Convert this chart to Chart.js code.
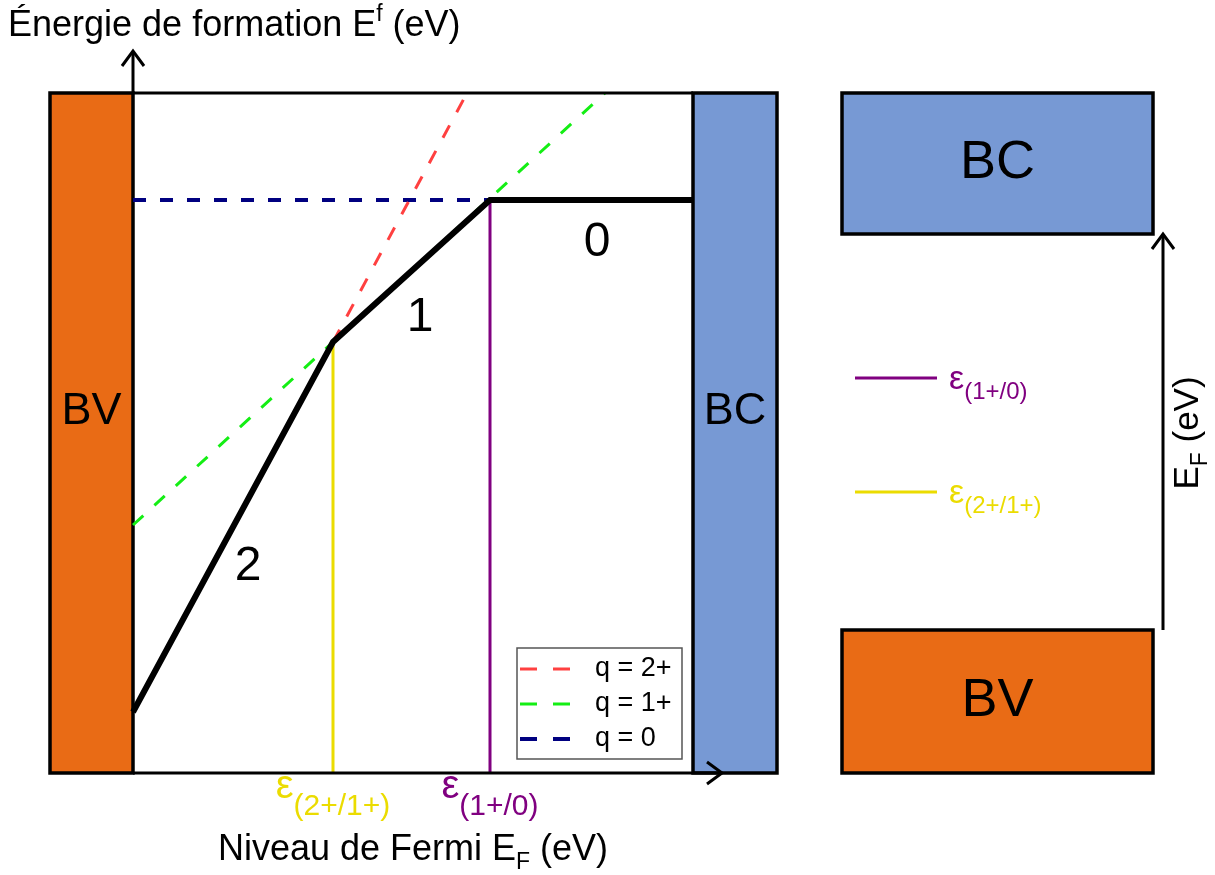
<!DOCTYPE html>
<html>
<head>
<meta charset="utf-8">
<script src="https://cdn.jsdelivr.net/npm/chart.js@4.4.0/dist/chart.umd.min.js"></script>
<style>
  html, body { margin: 0; padding: 0; background: #fff; }
  canvas { display: block; }
</style>
</head>
<body>
<canvas id="chart" width="1215" height="875"></canvas>
<script>
// Fermi level on x, formation energy on y (schematic eV units)
const gapEdges = [0, 2.8];                 // VBM, CBM
const energyRange = [0, 3.4];
const transitionLevels = [1.0, 1.785];     // eps(2+/1+), eps(1+/0)
const transitionNames = ['(2+/1+)', '(1+/0)'];
const transitionTops = [2.155, 2.865];
const chargeNames = ['q = 2+', 'q = 1+', 'q = 0'];

const q2Line = [[1.0, 2.155], [1.67, 3.4]];
const q1Line = [[0, 1.24], [2.36, 3.4]];
const q0Line = [[0, 2.865], [1.785, 2.865]];
const stableLine = [[0, 0.305], [1.0, 2.155], [1.785, 2.865], [2.8, 2.865]];
const stableCharges = ['2', '1', '0'];
const stableChargeAt = [[0.575, 1.03], [1.435, 2.275], [2.32, 2.65]];

// band edges drawn beside the plot and the band diagram on the right
const vbBar = [-0.415, 0];
const cbBar = [2.8, 3.22];
const panelX = [3.545, 5.1];
const panelCB = [2.695, 3.4];
const panelVB = [0, 0.715];
const panelLevels = [1.975, 1.405];        // eps(1+/0), eps(2+/1+)
const panelLevelX = [3.61, 4.02];
const panelArrowX = 5.15;

const ORANGE = '#e96b15';
const BLUE = '#7799d4';
const YELLOW = '#ebdc00';
const PURPLE = '#800080';
const FONT = '"Liberation Sans", Arial, sans-serif';

const pts = (arr) => arr.map(([x, y]) => ({ x, y }));
const rect = (x0, x1, y0, y1) => pts([[x0, y0], [x1, y0], [x1, y1], [x0, y1], [x0, y0], [x1, y0]]);

const lineDs = (data, color, width, dash, extra) => Object.assign({
    data: pts(data),
    showLine: true,
    borderColor: color,
    borderWidth: width,
    borderDash: dash || [],
    borderCapStyle: 'butt',
    pointRadius: 0,
    fill: false,
    clip: false,
}, extra || {});

const bandDs = (data, color) => ({
    data,
    showLine: true,
    borderColor: '#000',
    borderWidth: 3.5,
    borderJoinStyle: 'miter',
    backgroundColor: color,
    fill: 'shape',
    pointRadius: 0,
    clip: false,
    order: 10,
});

const datasets = [
    lineDs(stableLine, '#000', 6, null, { borderJoinStyle: 'miter', order: 1 }),
    lineDs(q2Line, '#ff4040', 3, [14, 15], { label: chargeNames[0], order: 5 }),
    lineDs(q1Line, '#14ee14', 3, [14, 15], { label: chargeNames[1], order: 5 }),
    lineDs(q0Line, '#000080', 4, [13, 14], { label: chargeNames[2], order: 5 }),
    lineDs([[transitionLevels[0], 0], [transitionLevels[0], transitionTops[0]]], YELLOW, 3, null, { order: 4 }),
    lineDs([[transitionLevels[1], 0], [transitionLevels[1], transitionTops[1]]], PURPLE, 3, null, { order: 4 }),
    lineDs([[panelLevelX[0], panelLevels[0]], [panelLevelX[1], panelLevels[0]]], PURPLE, 3, null, { order: 4 }),
    lineDs([[panelLevelX[0], panelLevels[1]], [panelLevelX[1], panelLevels[1]]], YELLOW, 3, null, { order: 4 }),
    bandDs(rect(vbBar[0], vbBar[1], energyRange[0], energyRange[1]), ORANGE),
    bandDs(rect(cbBar[0], cbBar[1], energyRange[0], energyRange[1]), BLUE),
    bandDs(rect(panelX[0], panelX[1], panelCB[0], panelCB[1]), BLUE),
    bandDs(rect(panelX[0], panelX[1], panelVB[0], panelVB[1]), ORANGE),
];

function richText(ctx, parts, x, y, align) {
    let w = 0;
    parts.forEach(p => {
        ctx.font = p.size + 'px ' + FONT;
        p.w = ctx.measureText(p.t).width;
        w += p.w;
    });
    let cx = align === 'center' ? x - w / 2 : x;
    ctx.textAlign = 'left';
    ctx.textBaseline = 'alphabetic';
    parts.forEach(p => {
        ctx.font = p.size + 'px ' + FONT;
        ctx.fillStyle = p.color || '#000';
        ctx.fillText(p.t, cx, y + (p.dy || 0));
        cx += p.w;
    });
}

function arrow(ctx, x1, y1, x2, y2) {
    const a = Math.atan2(y2 - y1, x2 - x1);
    ctx.beginPath();
    ctx.moveTo(x1, y1);
    ctx.lineTo(x2, y2);
    ctx.stroke();
    const bx = x2 - 15 * Math.cos(a), by = y2 - 15 * Math.sin(a);
    const nx = -Math.sin(a) * 11, ny = Math.cos(a) * 11;
    ctx.beginPath();
    ctx.moveTo(bx + nx, by + ny);
    ctx.lineTo(x2, y2);
    ctx.lineTo(bx - nx, by - ny);
    ctx.stroke();
}

const decorations = {
    id: 'decorations',
    afterDatasetsDraw(chart) {
        const { ctx } = chart;
        const X = chart.scales.x, Y = chart.scales.y;
        const x0 = X.getPixelForValue(gapEdges[0]);
        const x1 = X.getPixelForValue(gapEdges[1]);
        const yb = Y.getPixelForValue(energyRange[0]);
        const yt = Y.getPixelForValue(energyRange[1]);

        ctx.save();
        ctx.strokeStyle = '#000';
        ctx.lineWidth = 3;
        ctx.lineCap = 'butt';
        ctx.beginPath();
        ctx.moveTo(x0, yt);
        ctx.lineTo(x1, yt);
        ctx.stroke();
        // axes with arrows
        arrow(ctx, x0, yt, x0, yt - 42);
        arrow(ctx, x0, yb, X.getPixelForValue(cbBar[0]) + 29, yb);
        const ax = X.getPixelForValue(panelArrowX);
        arrow(ctx, ax, Y.getPixelForValue(panelVB[1]), ax, Y.getPixelForValue(panelCB[0]));

        // band labels
        ctx.fillStyle = '#000';
        ctx.textAlign = 'center';
        ctx.textBaseline = 'middle';
        ctx.font = '45px ' + FONT;
        const labelY = Y.getPixelForValue(1.805);
        ctx.fillText('BV', X.getPixelForValue((vbBar[0] + vbBar[1]) / 2), labelY);
        ctx.fillText('BC', X.getPixelForValue((cbBar[0] + cbBar[1]) / 2), labelY);
        ctx.font = '54px ' + FONT;
        const pcx = X.getPixelForValue((panelX[0] + panelX[1]) / 2);
        ctx.fillText('BC', pcx, Y.getPixelForValue((panelCB[0] + panelCB[1]) / 2));
        ctx.fillText('BV', pcx, Y.getPixelForValue((panelVB[0] + panelVB[1]) / 2));

        // charge state of each segment
        ctx.font = '48px ' + FONT;
        stableCharges.forEach((c, i) => {
            ctx.fillText(c, X.getPixelForValue(stableChargeAt[i][0]), Y.getPixelForValue(stableChargeAt[i][1]));
        });

        // transition level ticks
        const tickColors = [YELLOW, PURPLE];
        transitionLevels.forEach((v, i) => {
            richText(ctx, [
                { t: 'ε', size: 40, color: tickColors[i] },
                { t: transitionNames[i], size: 30, dy: 17, color: tickColors[i] },
            ], X.getPixelForValue(v), yb + 25, 'center');
        });

        // right panel level labels
        const lx = X.getPixelForValue(panelLevelX[1]) + 12;
        [[PURPLE, transitionNames[1]], [YELLOW, transitionNames[0]]].forEach(([col, name], i) => {
            const ly = Y.getPixelForValue(panelLevels[i]);
            richText(ctx, [
                { t: 'ε', size: 34 },
                { t: name, size: 24, dy: 10 },
            ].map(p => Object.assign(p, { color: col })), lx, ly + 11, 'left');
        });

        // axis titles
        richText(ctx, [
            { t: 'Énergie de formation E', size: 36 },
            { t: 'f', size: 23, dy: -15 },
            { t: ' (eV)', size: 36 },
        ], 8, 36, 'left');
        richText(ctx, [
            { t: 'Niveau de Fermi E', size: 36 },
            { t: 'F', size: 23, dy: 9 },
            { t: ' (eV)', size: 36 },
        ], (x0 + x1) / 2, 860, 'center');

        ctx.save();
        ctx.translate(1198, 433);
        ctx.rotate(-Math.PI / 2);
        richText(ctx, [
            { t: 'E', size: 35 },
            { t: 'F', size: 23, dy: 9 },
            { t: ' (eV)', size: 35 },
        ], 0, 0, 'center');
        ctx.restore();

        // legend
        const lgX = 517, lgY = 648, lgW = 165, lgH = 111;
        ctx.fillStyle = '#fff';
        ctx.fillRect(lgX, lgY, lgW, lgH);
        ctx.strokeStyle = '#555';
        ctx.lineWidth = 1.5;
        ctx.strokeRect(lgX, lgY, lgW, lgH);
        chart.data.datasets.filter(d => d.label).forEach((d, i) => {
            const ry = lgY + 21 + i * 35;
            ctx.strokeStyle = d.borderColor;
            ctx.lineWidth = d.borderWidth;
            ctx.setLineDash([17, 16]);
            ctx.beginPath();
            ctx.moveTo(lgX + 3, ry);
            ctx.lineTo(lgX + 53, ry);
            ctx.stroke();
            ctx.setLineDash([]);
            ctx.fillStyle = '#000';
            ctx.font = '27px ' + FONT;
            ctx.textAlign = 'left';
            ctx.textBaseline = 'middle';
            ctx.fillText(d.label, lgX + 78, ry);
        });
        ctx.restore();
    }
};

new Chart(document.getElementById('chart').getContext('2d'), {
    type: 'scatter',
    data: { datasets },
    options: {
        responsive: false,
        animation: false,
        layout: { padding: { left: 50, right: 42, top: 93, bottom: 102 } },
        scales: {
            x: { type: 'linear', min: -0.415, max: 5.2, display: false },
            y: { type: 'linear', min: energyRange[0], max: energyRange[1], display: false },
        },
        elements: { line: { tension: 0 } },
        plugins: {
            legend: { display: false },
            tooltip: { enabled: false },
        },
    },
    plugins: [decorations],
});
</script>
</body>
</html>
